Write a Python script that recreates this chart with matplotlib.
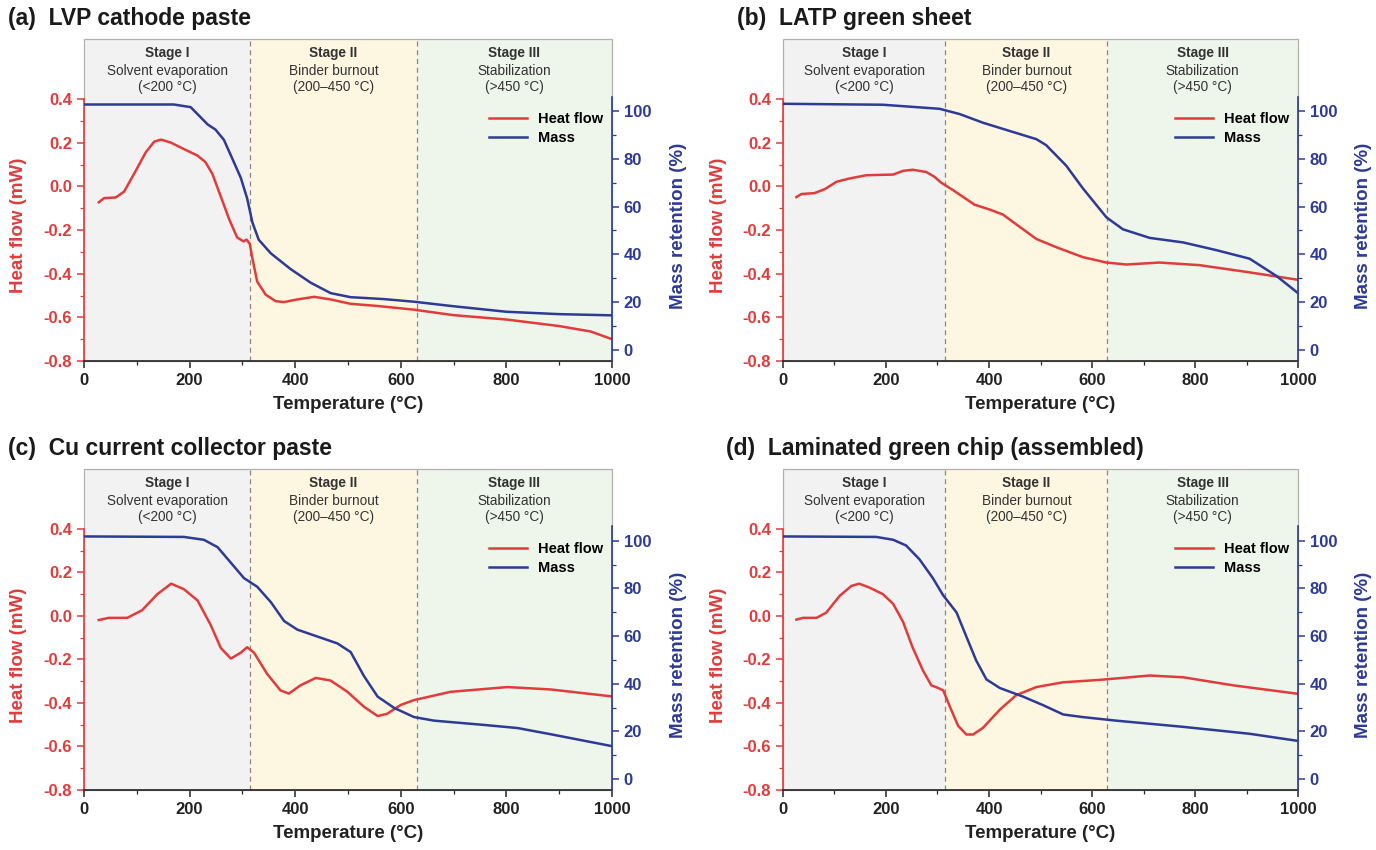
import numpy as np
import matplotlib.pyplot as plt
from matplotlib.patches import Rectangle

plt.rcParams['font.family'] = ['Liberation Sans', 'DejaVu Sans']

# ---- data ----
titles = ["(a)  LVP cathode paste", "(b)  LATP green sheet",
          "(c)  Cu current collector paste", "(d)  Laminated green chip (assembled)"]

stage_edges = [0, 315, 630, 1000]
stage_names = ["Stage I", "Stage II", "Stage III"]
stage_desc = ["Solvent evaporation", "Binder burnout", "Stabilization"]
stage_range = ["(<200 °C)", "(200–450 °C)", "(>450 °C)"]

hf_ticks = [-0.8, -0.6, -0.4, -0.2, 0.0, 0.2, 0.4]
mass_ticks = [0, 20, 40, 60, 80, 100]
temp_ticks = [0, 200, 400, 600, 800, 1000]

# (a) LVP cathode paste
t_hf_a = [28, 38, 60, 76, 95, 117, 133, 146, 164, 189, 215, 230, 243, 259, 275, 290, 302, 308, 314, 319, 328, 344, 363, 379, 404, 436, 467, 505, 556, 625, 700, 800, 900, 960, 1000]
hf_a = [-0.073, -0.054, -0.051, -0.024, 0.058, 0.156, 0.205, 0.214, 0.201, 0.171, 0.141, 0.111, 0.058, -0.046, -0.151, -0.234, -0.252, -0.244, -0.264, -0.331, -0.436, -0.496, -0.526, -0.530, -0.518, -0.506, -0.518, -0.538, -0.548, -0.565, -0.59, -0.61, -0.64, -0.665, -0.70]
t_m_a = [0, 170, 202, 218, 234, 249, 265, 281, 297, 309, 319, 331, 354, 391, 429, 467, 505, 568, 625, 700, 800, 900, 1000]
mass_a = [102.7, 102.7, 101.6, 98, 94.4, 92.2, 87.9, 80, 72, 63.4, 53.3, 46.1, 40.4, 33.9, 28.2, 23.8, 22.1, 21.3, 20.2, 18.3, 16, 15, 14.5]

# (b) LATP green sheet
t_hf_b = [26, 36, 61, 81, 104, 129, 162, 214, 233, 252, 278, 294, 307, 330, 372, 401, 427, 453, 492, 531, 582, 628, 667, 731, 809, 906, 1000]
hf_b = [-0.049, -0.035, -0.031, -0.013, 0.021, 0.036, 0.051, 0.054, 0.071, 0.076, 0.066, 0.044, 0.017, -0.017, -0.084, -0.106, -0.129, -0.174, -0.241, -0.279, -0.324, -0.349, -0.358, -0.349, -0.361, -0.394, -0.428]
t_m_b = [0, 194, 304, 343, 388, 427, 492, 511, 550, 582, 628, 660, 712, 777, 841, 906, 958, 1000]
mass_b = [103, 102.6, 100.9, 98.7, 95.1, 92.5, 88.2, 85.7, 77.1, 67.7, 55.5, 50.5, 46.9, 45, 41.8, 38.2, 31, 23.8]

# (c) Cu current collector paste
t_hf_c = [28, 47, 82, 110, 139, 165, 189, 215, 240, 259, 278, 297, 309, 322, 347, 372, 388, 410, 439, 467, 499, 530, 556, 574, 600, 625, 694, 802, 884, 1000]
hf_c = [-0.019, -0.009, -0.009, 0.026, 0.100, 0.148, 0.123, 0.071, -0.042, -0.147, -0.196, -0.169, -0.144, -0.169, -0.267, -0.342, -0.357, -0.319, -0.285, -0.297, -0.349, -0.417, -0.460, -0.450, -0.409, -0.387, -0.349, -0.327, -0.338, -0.370]
t_m_c = [0, 189, 227, 253, 278, 303, 328, 354, 379, 404, 442, 480, 505, 530, 556, 587, 625, 663, 758, 821, 884, 1000]
mass_c = [101.8, 101.6, 100.4, 97.3, 90.8, 84.3, 80.7, 74.2, 66.3, 62.7, 59.8, 56.9, 53.3, 43.3, 34.6, 29.9, 26, 24.5, 22.7, 21.4, 18.8, 13.8]

# (d) Laminated green chip (assembled)
t_hf_d = [26, 39, 65, 84, 110, 133, 148, 168, 194, 214, 233, 252, 272, 288, 301, 311, 324, 340, 356, 369, 388, 421, 453, 492, 544, 615, 712, 777, 874, 1000]
hf_d = [-0.017, -0.009, -0.009, 0.015, 0.092, 0.138, 0.148, 0.130, 0.100, 0.055, -0.027, -0.147, -0.252, -0.319, -0.331, -0.342, -0.417, -0.505, -0.545, -0.545, -0.515, -0.431, -0.364, -0.327, -0.305, -0.294, -0.274, -0.282, -0.319, -0.358]
t_m_d = [0, 181, 214, 239, 265, 291, 311, 337, 356, 375, 395, 421, 466, 505, 544, 582, 647, 777, 906, 1000]
mass_d = [101.8, 101.6, 100.4, 98, 92.2, 84.3, 77.1, 69.9, 59.8, 49.8, 41.8, 38.2, 34.6, 31, 27.1, 26, 24.5, 21.9, 19.0, 16.0]

panels = [(t_hf_a, hf_a, t_m_a, mass_a), (t_hf_b, hf_b, t_m_b, mass_b),
          (t_hf_c, hf_c, t_m_c, mass_c), (t_hf_d, hf_d, t_m_d, mass_d)]

RED = '#e23b3b'
BLUE = '#2d3a96'
bg_colors = ['#f2f2f2', '#fdf6e1', '#eef5eb']

W, H = 1376, 850
# axes boxes in pixels: left, right, top, bottom
boxes = [(84, 612, 39, 361), (783, 1298, 39, 361),
         (84, 612, 469, 790), (783, 1298, 469, 790)]
title_pos = [(8, 18), (737, 18), (8, 448), (726, 448)]

fig = plt.figure(figsize=(W / 100, H / 100), dpi=100)

for i, (th, hf, tm, ms) in enumerate(panels):
    l, r, t, b = boxes[i]
    ax = fig.add_axes([l / W, 1 - b / H, (r - l) / W, (b - t) / H])
    ax2 = ax.twinx()
    ax2.patch.set_visible(False)

    # stage shading + header
    for k in range(3):
        ax.axvspan(stage_edges[k], stage_edges[k + 1], color=bg_colors[k], zorder=0, lw=0)
        xc = (stage_edges[k] + stage_edges[k + 1]) / 2
        ax.text(xc, 0.611, stage_names[k], ha='center', va='center', fontsize=9.8, fontweight='bold', color='#333333')
        ax.text(xc, 0.528, stage_desc[k], ha='center', va='center', fontsize=9.8, color='#333333')
        ax.text(xc, 0.453, stage_range[k], ha='center', va='center', fontsize=9.8, color='#333333')
    for xv in stage_edges[1:3]:
        ax.axvline(xv, color='#888888', ls=(0, (4, 3)), lw=0.9, zorder=1)

    l1, = ax.plot(th, hf, color=RED, lw=1.8, label='Heat flow', zorder=3)
    l2, = ax2.plot(tm, ms, color=BLUE, lw=1.8, label='Mass', zorder=3)

    ax.set_xlim(0, 1000)
    ax.set_ylim(-0.8, 0.675)
    ax2.set_ylim(-4.6, 130.1)

    ax.set_xticks(temp_ticks)
    ax.set_xticks(np.arange(100, 1000, 200), minor=True)
    ax.set_yticks(hf_ticks)
    ax.set_yticklabels(['%.1f' % v for v in hf_ticks])
    ax.set_yticks(np.arange(-0.7, 0.4, 0.2), minor=True)
    ax2.set_yticks(mass_ticks)
    ax2.set_yticks(np.arange(10, 101, 20), minor=True)

    for s in ['top', 'right']:
        ax.spines[s].set_visible(False)
    for s in ['top', 'left', 'bottom']:
        ax2.spines[s].set_visible(False)
    ax.spines['left'].set_color(RED)
    ax.spines['left'].set_bounds(-0.8, 0.4)
    ax.spines['left'].set_linewidth(1.2)
    ax.spines['bottom'].set_color('#222222')
    ax.spines['bottom'].set_linewidth(1.2)
    ax2.spines['right'].set_color(BLUE)
    ax2.spines['right'].set_bounds(-4.6, 106)
    ax2.spines['right'].set_linewidth(1.2)
    ax.add_patch(Rectangle((0, 0), 1, 1, transform=ax.transAxes, fill=False,
                           edgecolor='#b0b0b0', lw=0.9, zorder=2, clip_on=False))

    ax.tick_params(axis='y', which='both', colors=RED, labelsize=12)
    ax.tick_params(axis='y', which='major', length=5, width=1.1)
    ax.tick_params(axis='y', which='minor', length=3, width=0.9)
    ax.tick_params(axis='x', which='both', colors='#222222', labelsize=12)
    ax.tick_params(axis='x', which='major', length=5, width=1.1)
    ax.tick_params(axis='x', which='minor', length=3, width=0.9)
    ax2.tick_params(axis='y', which='both', colors=BLUE, labelsize=12)
    ax2.tick_params(axis='y', which='major', length=5, width=1.1)
    ax2.tick_params(axis='y', which='minor', length=3, width=0.9)
    for lab in ax.get_xticklabels() + ax.get_yticklabels() + ax2.get_yticklabels():
        lab.set_fontweight('bold')

    ax.set_xlabel('Temperature (°C)', fontsize=13.5, fontweight='bold', color='#222222', labelpad=6)
    ax.set_ylabel('Heat flow (mW)', fontsize=13.5, fontweight='bold', color=RED)
    ax2.set_ylabel('Mass retention (%)', fontsize=13.5, fontweight='bold', color=BLUE, rotation=90)
    ax.yaxis.set_label_coords(-0.108, 0.42)
    ax2.yaxis.set_label_coords(1.11, 0.42)

    ax2.legend(handles=[l1, l2], loc='center right', bbox_to_anchor=(0.995, 0.722),
               frameon=False, prop={'weight': 'bold', 'size': 10.5},
               handlelength=2.6, labelspacing=0.35, borderaxespad=0.0)

    tx, ty = title_pos[i]
    fig.text(tx / W, 1 - ty / H, titles[i], fontsize=16.5, fontweight='bold',
             ha='left', va='center', color='#1a1a1a')

fig.savefig('out.png', dpi=100)
